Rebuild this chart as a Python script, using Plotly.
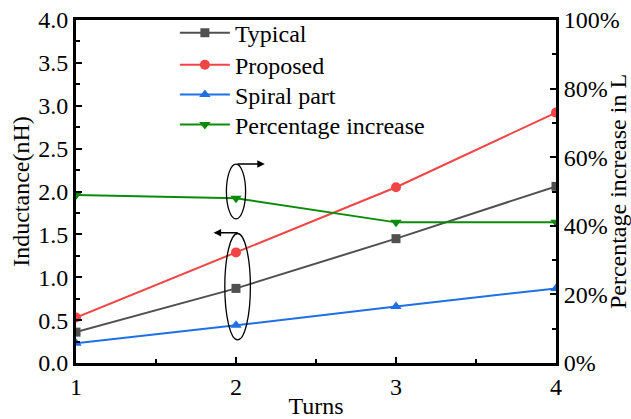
import plotly.graph_objects as go

turns = [1, 2, 3, 4]
typical = [0.36, 0.87, 1.45, 2.06]
proposed = [0.53, 1.29, 2.05, 2.92]
spiral = [0.23, 0.44, 0.66, 0.87]
pct_increase = [49, 48, 41, 41]

FONT = "Liberation Serif"
FS = 24
C_TYP = "#505050"
C_PRO = "#f04545"
C_SPI = "#1f6fe5"
C_PCT = "#0a8c0a"

fig = go.Figure()
fig.add_trace(go.Scatter(x=turns, y=typical, name="Typical", mode="lines+markers", legend="legend",
                         line=dict(color=C_TYP, width=2), marker=dict(symbol="square", size=9)))
fig.add_trace(go.Scatter(x=turns, y=proposed, name="Proposed", mode="lines+markers", legend="legend2",
                         line=dict(color=C_PRO, width=2), marker=dict(symbol="circle", size=10)))
fig.add_trace(go.Scatter(x=turns, y=spiral, name="Spiral part", mode="lines+markers", legend="legend3",
                         line=dict(color=C_SPI, width=2), marker=dict(symbol="triangle-up", size=10)))
fig.add_trace(go.Scatter(x=turns, y=pct_increase, name="Percentage increase", mode="lines+markers",
                         yaxis="y2", legend="legend4",
                         line=dict(color=C_PCT, width=2), marker=dict(symbol="triangle-down", size=10)))

axis_common = dict(showline=True, linecolor="black", linewidth=3, ticks="inside",
                   ticklen=6, tickwidth=2, tickcolor="black", showgrid=False, zeroline=False,
                   automargin=False,
                   tickfont=dict(family=FONT, size=FS, color="black"))

def leg(yc):
    return dict(x=0.206, y=yc, xanchor="left", yanchor="middle", bgcolor="rgba(0,0,0,0)",
                font=dict(family=FONT, size=FS), itemwidth=50)

fig.update_layout(
    width=631, height=419,
    margin=dict(l=76, r=75, t=19, b=56),
    plot_bgcolor="white", paper_bgcolor="white",
    font=dict(family=FONT, size=FS, color="black"),
    xaxis=dict(range=[1, 4], tickvals=[1, 2, 3, 4], mirror=True,
               minor=dict(ticks="inside", ticklen=4, tickwidth=2, dtick=0.5, tickcolor="black"),
               title=dict(text="Turns", font=dict(family=FONT, size=FS), standoff=0),
               **axis_common),
    yaxis=dict(range=[0, 4], dtick=0.5, tickformat=".1f",
               minor=dict(ticks="inside", ticklen=4, tickwidth=2, dtick=0.25, tickcolor="black"),
               title=dict(text="Inductance(nH)", font=dict(family=FONT, size=FS), standoff=2),
               **axis_common),
    yaxis2=dict(range=[0, 100], dtick=20, ticksuffix="%", overlaying="y", side="right",
                minor=dict(ticks="inside", ticklen=4, tickwidth=2, dtick=10, tickcolor="black"),
                title=dict(text="Percentage increase in L", font=dict(family=FONT, size=FS), standoff=2),
                **axis_common),
    legend=leg(0.959),
    legend2=leg(0.866),
    legend3=leg(0.779),
    legend4=leg(0.692),
    showlegend=True,
)

# ellipses and arrows
fig.add_shape(type="circle", xref="x", yref="y", x0=1.94, x1=2.06, y0=1.68, y1=2.32,
              line=dict(color="black", width=1.3))
fig.add_shape(type="circle", xref="x", yref="y", x0=1.93, x1=2.09, y0=0.27, y1=1.51,
              line=dict(color="black", width=1.3))
fig.add_annotation(x=2.18, y=2.32, ax=2.0, ay=2.32, xref="x", yref="y", axref="x", ayref="y",
                   showarrow=True, arrowhead=2, arrowsize=1, arrowwidth=1.5, arrowcolor="black", text="")
fig.add_annotation(x=1.86, y=1.52, ax=2.02, ay=1.52, xref="x", yref="y", axref="x", ayref="y",
                   showarrow=True, arrowhead=2, arrowsize=1, arrowwidth=1.5, arrowcolor="black", text="")

fig.write_html("out.html", config={"displayModeBar": False},
               post_script="document.body.style.margin='0';")
